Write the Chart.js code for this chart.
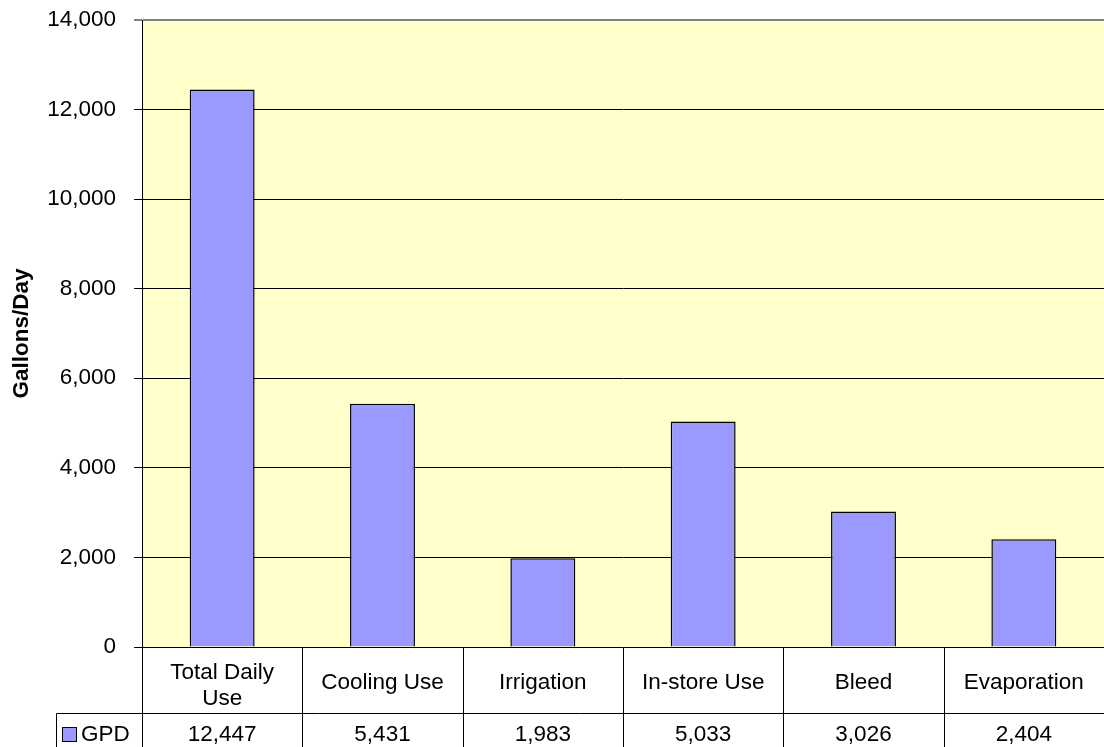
<!DOCTYPE html>
<html>
<head>
<meta charset="utf-8">
<title>Gallons/Day</title>
<script src="https://cdn.jsdelivr.net/npm/chart.js@4.4.1/dist/chart.umd.min.js"></script>
<style>
    body { margin: 0; background: #ffffff; }
    #wrap { width: 1104px; height: 747px; }
</style>
</head>
<body>
<div id="wrap"><canvas id="gpd-chart" width="1104" height="747"></canvas></div>
<script>
// chart data
const categories = [['Total Daily', 'Use'], 'Cooling Use', 'Irrigation', 'In-store Use', 'Bleed', 'Evaporation'];
const gpdValues = [12447, 5431, 1983, 5033, 3026, 2404];
const seriesName = 'GPD';
const yMax = 14000;
const yStep = 2000;

const fontFamily = '"Liberation Sans", Arial, sans-serif';
const barColor = '#9999FF';

// pale yellow plot background
const plotBackground = {
    id: 'plotBackground',
    beforeDraw(chart) {
        const { ctx, chartArea } = chart;
        ctx.save();
        ctx.fillStyle = '#FFFFCC';
        ctx.fillRect(chartArea.left, chartArea.top, chartArea.right - chartArea.left, chartArea.bottom - chartArea.top);
        ctx.restore();
    }
};

// data table under the plot (category row + value row with legend key)
const dataTable = {
    id: 'dataTable',
    afterDraw(chart) {
        const { ctx, chartArea } = chart;
        const x = chart.scales.x;
        const n = categories.length;
        const cellW = (chartArea.right - chartArea.left) / n;
        const top = Math.round(chartArea.bottom) + 0.5;
        const rowSplit = 713.5;
        const bottom = chart.height;
        const keyLeft = 56.5;

        ctx.save();
        ctx.strokeStyle = '#000000';
        ctx.lineWidth = 1;
        ctx.beginPath();
        // column borders
        for (let i = 0; i <= n; i++) {
            const cx = Math.round(chartArea.left + i * cellW) + 0.5;
            ctx.moveTo(cx, top);
            ctx.lineTo(cx, bottom);
        }
        // row split and legend cell
        ctx.moveTo(keyLeft, rowSplit);
        ctx.lineTo(chartArea.right, rowSplit);
        ctx.moveTo(keyLeft, rowSplit);
        ctx.lineTo(keyLeft, bottom);
        ctx.stroke();

        ctx.fillStyle = '#000000';
        ctx.font = '22.5px ' + fontFamily;
        ctx.textAlign = 'center';
        ctx.textBaseline = 'alphabetic';
        categories.forEach((label, i) => {
            const cx = x.getPixelForValue(i);
            if (Array.isArray(label)) {
                ctx.fillText(label[0], cx, 679);
                ctx.fillText(label[1], cx, 705);
            } else {
                ctx.fillText(label, cx, 689);
            }
            ctx.fillText(gpdValues[i].toLocaleString('en-US'), cx, 741);
        });

        // legend key
        ctx.fillStyle = barColor;
        ctx.fillRect(62, 727, 14, 14);
        ctx.strokeRect(62.5, 727.5, 14, 14);
        ctx.fillStyle = '#000000';
        ctx.textAlign = 'left';
        ctx.fillText(seriesName, 81, 741);
        ctx.restore();
    }
};

const gpdChart = new Chart(document.getElementById('gpd-chart').getContext('2d'), {
    type: 'bar',
    data: {
        labels: categories,
        datasets: [{
            label: seriesName,
            data: gpdValues,
            backgroundColor: barColor,
            borderColor: '#000000',
            borderWidth: 1.5,
            barPercentage: 0.405,
            categoryPercentage: 1
        }]
    },
    options: {
        responsive: false,
        animation: false,
        layout: {
            padding: { top: 20, bottom: 100, left: 0, right: 0 }
        },
        scales: {
            x: {
                display: false
            },
            y: {
                min: 0,
                max: yMax,
                afterFit(scale) {
                    scale.width = 142; // plot starts at x=142
                    scale.paddingTop = 0;
                    scale.paddingBottom = 0;
                },
                ticks: {
                    stepSize: yStep,
                    padding: 18,
                    color: '#000000',
                    font: { family: fontFamily, size: 22.5 },
                    callback: (v) => v.toLocaleString('en-US')
                },
                grid: {
                    color: (c) => (c.tick && c.tick.value === yMax ? '#808080' : '#000000'),
                    lineWidth: (c) => (c.tick && c.tick.value === yMax ? 2 : 1),
                    tickLength: 8
                },
                border: {
                    color: '#000000',
                    width: 1
                },
                title: {
                    display: true,
                    text: 'Gallons/Day',
                    color: '#000000',
                    font: { family: fontFamily, size: 22.5, weight: 'bold' },
                    padding: { top: 8, bottom: 0 }
                }
            }
        },
        plugins: {
            legend: { display: false },
            tooltip: { enabled: false }
        }
    },
    plugins: [plotBackground, dataTable]
});
</script>
</body>
</html>
